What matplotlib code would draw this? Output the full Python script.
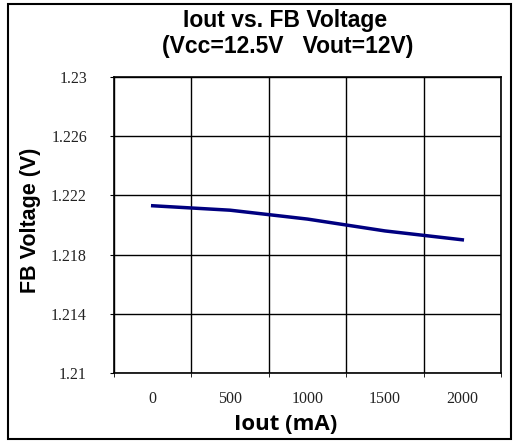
import matplotlib.pyplot as plt
from matplotlib.patches import Rectangle
import numpy as np

# Données
iout_labels = ['0', '500', '1000', '1500', '2000']
fb_voltage = [1.2213, 1.2210, 1.2204, 1.2196, 1.2190]
y_ticks = [1.21, 1.214, 1.218, 1.222, 1.226, 1.23]
y_tick_labels = ['1.21', '1.214', '1.218', '1.222', '1.226', '1.23']

W, H = 513, 441
fig = plt.figure(figsize=(W / 100, H / 100), dpi=100)
fig.patch.set_facecolor('white')

# Cadre extérieur
fig.patches.append(Rectangle((8 / W, 2 / H), 503 / W, 435 / H, transform=fig.transFigure,
                             fill=False, edgecolor='black', linewidth=1.5))

ax = fig.add_axes([114 / W, 68 / H, 387 / W, 296 / H])
x = np.arange(len(iout_labels))
ax.plot(x, fb_voltage, color='#000080', linewidth=2.5)

ax.set_xlim(-0.5, len(iout_labels) - 0.5)
ax.set_ylim(1.21, 1.23)
ax.set_xticks(x)
ax.set_xticklabels(iout_labels, family='Liberation Serif', fontsize=11.5, color='#222222')
ax.set_xticks(np.arange(len(iout_labels) + 1) - 0.5, minor=True)
ax.set_yticks(y_ticks)
ax.set_yticklabels(y_tick_labels, family='Liberation Serif', fontsize=11.5, color='#222222')
ax.tick_params(axis='x', which='major', length=0, pad=13)
ax.tick_params(axis='x', which='minor', length=3, direction='out')
ax.tick_params(axis='y', which='major', length=3, direction='out', pad=16.5)
ax.grid(True, axis='y', which='major', color='black', linewidth=1)
ax.grid(True, axis='x', which='minor', color='black', linewidth=1)
for s in ax.spines.values():
    s.set_color('black')
    s.set_linewidth(1.2)

fig.text(31 / W, 1 - 220 / H, 'FB Voltage (V)', family='Liberation Sans', fontweight='bold',
         fontsize=15.5, rotation=90, ha='center', va='center')
fig.text(286 / W, 1 - 424 / H, 'Iout (mA)', family='Open Sans', fontweight='bold', fontsize=16,
         ha='center', va='center')

fig.text(285 / W, 1 - 20 / H, 'Iout vs. FB Voltage', family='Liberation Sans', fontweight='bold',
         fontsize=16.5, ha='center', va='center')
fig.text(288 / W, 1 - 46 / H, '(Vcc=12.5V   Vout=12V)', family='Liberation Sans', fontweight='bold',
         fontsize=16.5, ha='center', va='center')

fig.savefig('out.png', dpi=100)
